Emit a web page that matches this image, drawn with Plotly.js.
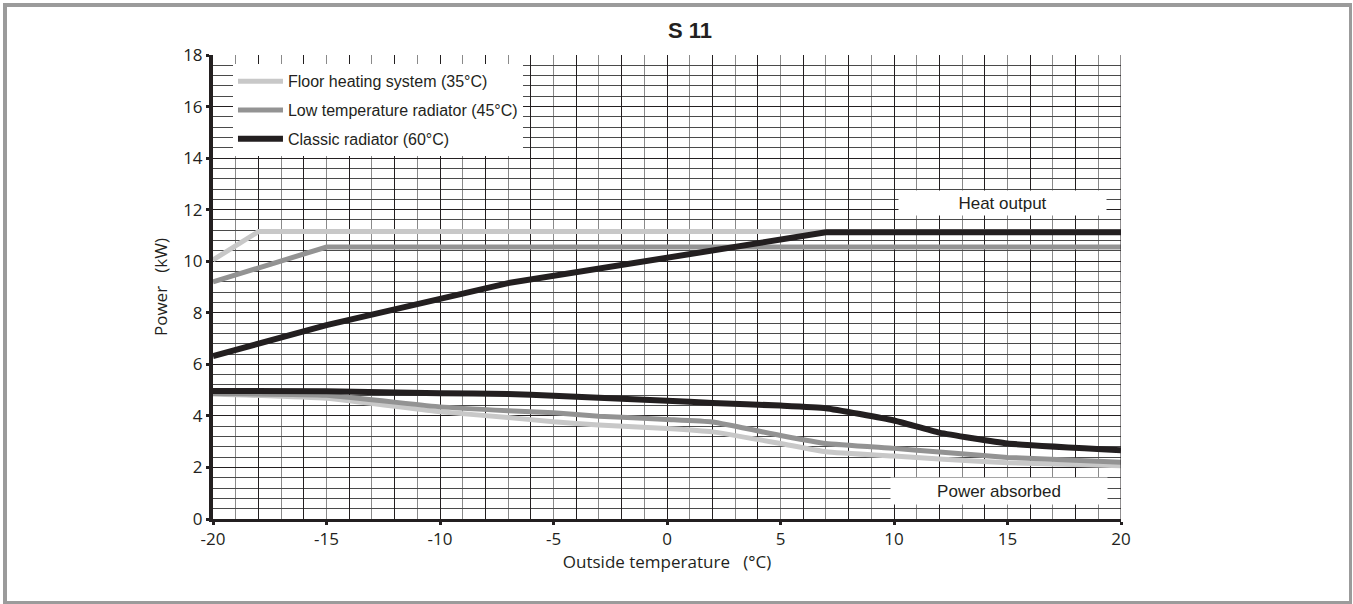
<!DOCTYPE html>
<html>
<head>
<meta charset="utf-8">
<script src="https://cdn.plot.ly/plotly-3.0.1.min.js"></script>
<style>
  html, body { margin: 0; padding: 0; background: #fff; }
  #wrap { position: relative; width: 1353px; height: 604px; overflow: hidden; }
  #chart { position: absolute; left: 0; top: 0; width: 1353px; height: 604px; }
  #frame { position: absolute; left: 3px; top: 3px; width: 1349px; height: 601px;
           box-sizing: border-box; border: 4px solid #9b9b9b; border-right-width: 3px; border-bottom-width: 3px; pointer-events: none; }
</style>
</head>
<body>
<div id="wrap">
  <div id="chart"></div>
  <div id="frame"></div>
</div>
<script>
// ---- data ----
const seriesNames = ["Floor heating system (35°C)", "Low temperature radiator (45°C)", "Classic radiator (60°C)"];
const seriesColors = ["#c8c8c8", "#939393", "#231f20"];

// Heat output
const heatFloorX = [-20, -18, 20];
const heatFloorY = [10.05, 11.15, 11.15];
const heatLowX = [-20, -15, 20];
const heatLowY = [9.2, 10.55, 10.55];
const heatClassicX = [-20, -15, -7, 7, 20];
const heatClassicY = [6.32, 7.52, 9.15, 11.12, 11.12];

// Power absorbed
const absX = [-20, -15, -10, -7, -5, -3, 0, 2, 5, 7, 10, 12, 15, 20];
const absFloorY = [4.85, 4.68, 4.16, 3.94, 3.77, 3.65, 3.51, 3.38, 2.93, 2.61, 2.44, 2.33, 2.18, 2.07];
const absLowY = [4.87, 4.8, 4.35, 4.2, 4.12, 3.99, 3.86, 3.76, 3.24, 2.93, 2.74, 2.6, 2.39, 2.2];
const absClassicY = [4.97, 4.96, 4.88, 4.85, 4.78, 4.7, 4.59, 4.5, 4.4, 4.3, 3.82, 3.35, 2.93, 2.67];

const xTickVals = [-20, -15, -10, -5, 0, 5, 10, 15, 20];
const yTickVals = [0, 2, 4, 6, 8, 10, 12, 14, 16, 18];

const chartTitle = "S 11";
const xTitle = "Outside temperature\u00a0\u00a0\u00a0(°C)";
const yTitle = "Power\u00a0\u00a0\u00a0(kW)";
const heatLabel = "Heat output";
const absLabel = "Power absorbed";

// ---- traces ----
const heatX = [heatFloorX, heatLowX, heatClassicX];
const heatY = [heatFloorY, heatLowY, heatClassicY];
const absY = [absFloorY, absLowY, absClassicY];
const widths = [5, 5, 6];

const traces = [];
for (let i = 0; i < 3; i++) {
  traces.push({
    type: "scatter", mode: "lines", x: heatX[i], y: heatY[i],
    name: seriesNames[i], legendgroup: "g" + i, showlegend: true,
    line: { color: seriesColors[i], width: widths[i] }, hoverinfo: "skip"
  });
}
for (let i = 0; i < 3; i++) {
  traces.push({
    type: "scatter", mode: "lines", x: absX, y: absY[i],
    name: seriesNames[i], legendgroup: "g" + i, showlegend: false,
    line: { color: seriesColors[i], width: widths[i], shape: "spline", smoothing: 0.4 }, hoverinfo: "skip"
  });
}
// overlay axis to draw darker grid every 2 units
traces.push({ type: "scatter", x: [-20, 20], y: [0, 0], xaxis: "x2", mode: "none", showlegend: false, hoverinfo: "skip" });

const tickFont = { family: "Open Sans, Liberation Sans, Arial, sans-serif", size: 17, color: "#231f20" };

const layout = {
  width: 1353, height: 604,
  paper_bgcolor: "rgba(0,0,0,0)", plot_bgcolor: "#ffffff",
  margin: { l: 213, r: 232, t: 55, b: 85 },
  title: { text: "<b>" + chartTitle + "</b>", x: 0.51, xanchor: "center", y: 0.95, yanchor: "middle",
           font: { family: "Liberation Sans, Arial, sans-serif", size: 22, color: "#231f20" } },
  showlegend: true,
  legend: {
    x: 0.022, y: 0.98, xanchor: "left", yanchor: "top",
    bgcolor: "#ffffff", borderwidth: 0,
    font: { family: "Liberation Sans Narrow, Arial Narrow, Liberation Sans, Arial, sans-serif", size: 16, color: "#231f20" },
    itemwidth: 45, tracegroupgap: 5, traceorder: "grouped"
  },
  xaxis: {
    range: [-20, 20], tickvals: xTickVals, ticktext: xTickVals.map(String),
    showgrid: false, zeroline: false,
    showline: true, linecolor: "#231f20", linewidth: 3,
    ticks: "outside", ticklen: 3, tickwidth: 3, tickcolor: "#231f20",
    tickfont: tickFont,
    minor: { dtick: 1, tick0: 0, showgrid: true, gridcolor: "#8a8a8a", gridwidth: 1, ticks: "" },
    title: { text: xTitle, font: tickFont, standoff: 6 },
    mirror: false
  },
  xaxis2: {
    overlaying: "x", range: [-20, 20], dtick: 2, tick0: 0, showgrid: true, gridcolor: "#231f20", gridwidth: 1,
    showticklabels: false, zeroline: false, showline: false, ticks: ""
  },
  yaxis: {
    range: [0, 18], tickvals: yTickVals, ticktext: yTickVals.map(String),
    showgrid: true, gridcolor: "#231f20", gridwidth: 1, zeroline: false,
    showline: true, linecolor: "#231f20", linewidth: 4,
    ticks: "outside", ticklen: 3, tickwidth: 3, tickcolor: "#231f20",
    tickfont: tickFont,
    minor: { dtick: 0.4, tick0: 0, showgrid: true, gridcolor: "#4a4a4a", gridwidth: 1, ticks: "" },
    title: { text: yTitle, font: tickFont, standoff: 12 }
  },
  shapes: [
    { type: "line", xref: "x", yref: "paper", x0: 20, x1: 20, y0: 0, y1: 1, line: { color: "#231f20", width: 1 } }
  ],
  annotations: [
    { text: heatLabel, xref: "paper", yref: "paper", x: (1002 - 213) / 908, y: (519 - 203) / 464,
      showarrow: false, bgcolor: "#ffffff", width: 205, height: 22, xanchor: "center", yanchor: "middle",
      font: { family: "Liberation Sans, Arial, sans-serif", size: 17, color: "#231f20" } },
    { text: absLabel, xref: "paper", yref: "paper", x: (999 - 213) / 908, y: (519 - 491) / 464,
      showarrow: false, bgcolor: "#ffffff", width: 214, height: 24, xanchor: "center", yanchor: "middle",
      font: { family: "Liberation Sans, Arial, sans-serif", size: 17, color: "#231f20" } }
  ]
};

Plotly.newPlot("chart", traces, layout, { staticPlot: true, displayModeBar: false });
</script>
</body>
</html>
